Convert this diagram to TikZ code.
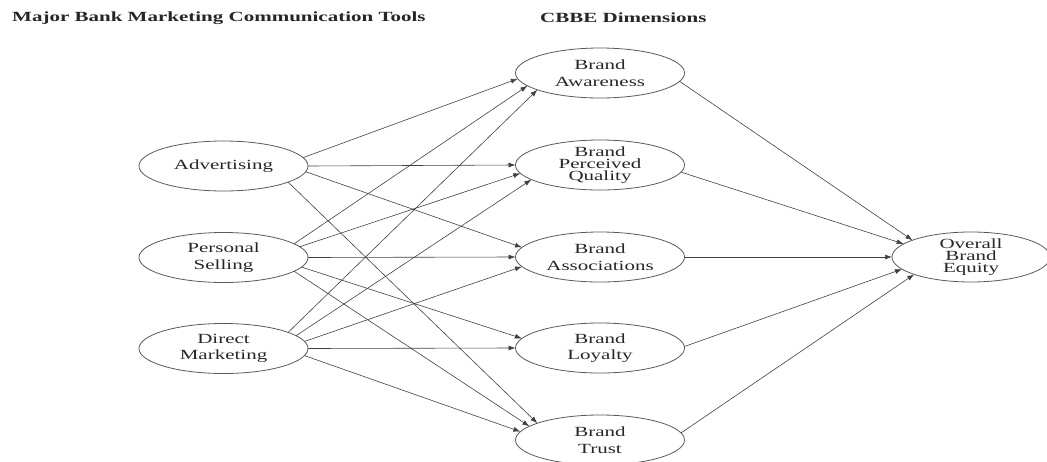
\documentclass[tikz,border=0pt]{standalone}
\usepackage{fontspec}
\usetikzlibrary{shapes.geometric,arrows.meta}
\newfontfamily\nodefont[FakeStretch=1.5]{Liberation Serif}
\tikzset{
  oval/.style={ellipse, draw=black!65, line width=0.8pt, minimum width=169pt, minimum height=50pt,
    inner sep=0pt, outer sep=0pt, align=center, text=black!85,
    font=\nodefont\fontsize{14}{16.7}\selectfont},
  tight/.style={font=\nodefont\fontsize{14}{12.3}\selectfont, inner ysep=-4pt},
  arr/.style={-{Latex[length=7pt,width=5pt]}, draw=black!75, line width=0.6pt},
  head/.style={anchor=west, inner sep=0pt, text=black!85,
    font=\nodefont\bfseries\fontsize{14}{16}\selectfont}
}
\begin{document}
\begin{tikzpicture}[x=1pt,y=-1pt]
\useasboundingbox (0,0) rectangle (1047,461);
% headers
\node[head] (h1) at (12,18) {Major Bank Marketing Communication Tools};
\node[head] (h2) at (540,18) {CBBE Dimensions};
% left column
\node[oval] (adv) at (223.5,166) {Advertising};
\node[oval] (ps)  at (223.5,257.5) {Personal\\Selling};
\node[oval] (dm)  at (223.5,348.5) {Direct\\Marketing};
% middle column
\node[oval] (ba)  at (600,73)  {Brand\\Awareness};
\node[oval,tight] (bpq) at (600,165) {Brand\\Perceived\\Quality};
\node[oval] (bas) at (600,257) {Brand\\Associations};
\node[oval] (bl)  at (600,348) {Brand\\Loyalty};
\node[oval] (bt)  at (600,440) {Brand\\Trust};
% right
\node[oval,tight,minimum width=158pt] (obe) at (971,257) {Overall\\Brand\\Equity};
% Advertising
\draw[arr] (adv.6)   -- (ba.184.6);
\draw[arr] (adv.0)   -- (bpq.180);
\draw[arr] (adv.-4.7) -- (bas.173.5);
\draw[arr] (adv.-14) -- (bt.165.6);
% Personal Selling
\draw[arr] (ps.11.8) -- (ba.190.2);
\draw[arr] (ps.8.5)  -- (bpq.186.6);
\draw[arr] (ps.0)    -- (bas.180);
\draw[arr] (ps.-7.6) -- (bl.173.5);
\draw[arr] (ps.-11.8) -- (bt.169.4);
% Direct Marketing
\draw[arr] (dm.14.6) -- (ba.195.2);
\draw[arr] (dm.10.7) -- (bpq.192.4);
\draw[arr] (dm.5.7)  -- (bas.187.1);
\draw[arr] (dm.0)    -- (bl.180);
\draw[arr] (dm.-5.7) -- (bt.174.8);
% to Overall Brand Equity
\draw[arr] (ba.-6.8)  -- (obe.164.2);
\draw[arr] (bpq.-5.4) -- (obe.169.4);
\draw[arr] (bas.0)    -- (obe.180);
\draw[arr] (bl.1)     -- (obe.190.6);
\draw[arr] (bt.5.5)   -- (obe.197.6);
\end{tikzpicture}
\end{document}
